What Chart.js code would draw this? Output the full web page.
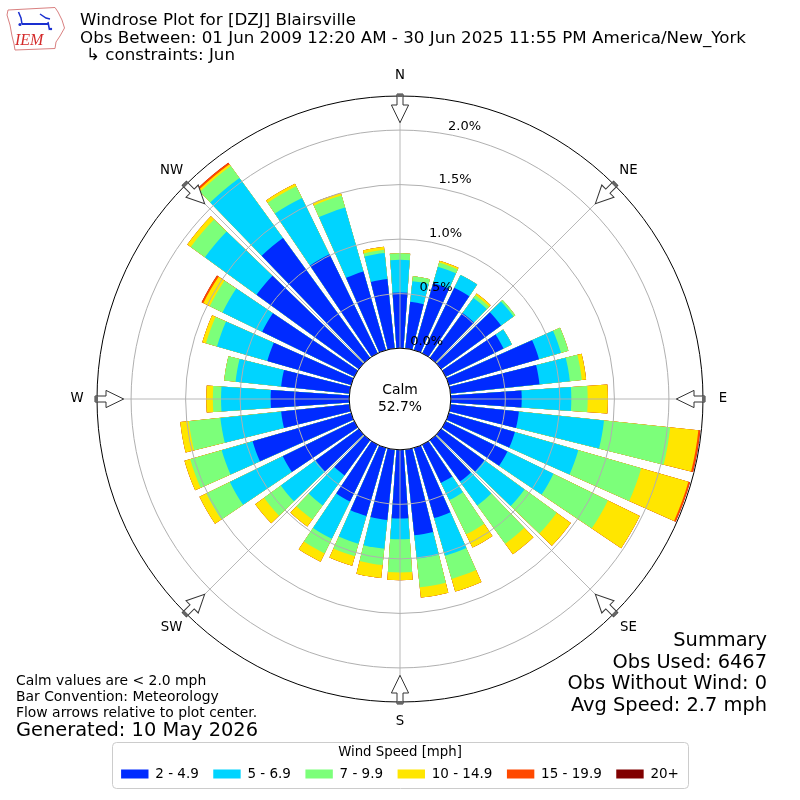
<!DOCTYPE html>
<html>
<head>
<meta charset="utf-8">
<title>Windrose Plot for [DZJ] Blairsville</title>
<script src="https://cdn.jsdelivr.net/npm/chart.js@4.4.1/dist/chart.umd.min.js"></script>
<style>
html, body { margin:0; padding:0; background:#ffffff; }
#wrap { position:relative; width:800px; height:800px; }
canvas { display:block; }
</style>
</head>
<body>
<div id="wrap"><canvas id="rose" width="800" height="800"></canvas></div>
<script>
// ---- Data (percent of observations) ----
const directions = [0,10,20,30,40,50,60,70,80,90,100,110,120,130,140,150,160,170,180,190,200,210,220,230,240,250,260,270,280,290,300,310,320,330,340,350];
const speedBins = ['2 - 4.9','5 - 6.9','7 - 9.9','10 - 14.9','15 - 19.9','20+'];
const binColors = ['#002bff','#00d4ff','#7cff7a','#ffe600','#ff4900','#800000'];

const speed2to5   = [0.51,0.43,0.64,0.67,0.51,0.68,0.59,0.86,0.82,0.65,0.63,0.63,0.63,0.49,0.47,0.39,0.67,0.79,0.63,0.65,0.65,0.58,0.40,0.49,0.73,0.94,0.63,0.72,0.63,0.80,0.94,1.16,1.36,1.01,0.75,0.64];
const speed5to7   = [0.30,0.19,0.155,0.13,0.17,0.14,0.085,0.21,0.28,0.455,0.785,0.605,0.47,0.455,0.27,0.175,0.36,0.215,0.19,0.265,0.265,0.38,0.34,0.395,0.54,0.295,0.56,0.455,0.42,0.48,0.405,0.585,0.68,0.575,0.61,0.24];
const speed7to10  = [0.06,0.045,0.04,0,0.03,0.02,0,0.07,0.11,0.15,0.61,0.60,0.555,0.365,0.435,0.35,0.22,0.265,0.305,0.15,0.12,0.15,0.16,0.19,0.24,0.30,0.29,0.075,0.105,0.105,0.13,0.16,0.135,0.12,0.115,0.03];
const speed10to15 = [0,0,0.017,0,0.02,0,0,0,0.04,0.185,0.26,0.45,0.325,0.16,0.12,0.135,0.12,0.095,0.07,0.12,0.09,0.085,0.08,0.10,0.07,0.055,0.08,0.06,0,0.035,0.065,0.04,0.02,0.025,0.025,0.027];
const speed15to20 = [0,0,0,0,0,0,0,0,0,0,0.018,0.016,0,0,0,0,0,0,0,0,0,0,0,0,0,0,0,0,0,0,0.018,0,0.018,0,0,0];
const speed20plus = [0,0,0,0,0,0,0,0,0,0,0,0,0,0,0,0,0,0,0,0,0,0,0,0,0,0,0,0,0,0,0,0,0,0,0,0];

const radialTicks = [0, 0.5, 1.0, 1.5, 2.0];
const radialTickLabels = ['0.0%','0.5%','1.0%','1.5%','2.0%'];
const compassLabels = ['N','NE','E','SE','S','SW','W','NW'];
const compassAngles = [0,45,90,135,180,225,270,315];

const calmLabel = 'Calm';
const calmValue = '52.7%';
const titleLines = ['Windrose Plot for [DZJ] Blairsville',
  'Obs Between: 01 Jun 2009 12:20 AM - 30 Jun 2025 11:55 PM America/New_York',
  '\u21b3 constraints: Jun'];
const noteLines = ['Calm values are < 2.0 mph','Bar Convention: Meteorology','Flow arrows relative to plot center.'];
const generatedLine = 'Generated: 10 May 2026';
const summaryLines = ['Summary','Obs Used: 6467','Obs Without Wind: 0','Avg Speed: 2.7 mph'];
const legendTitle = 'Wind Speed [mph]';

// ---- Build stacked (cumulative) datasets ----
const binSeries = [speed2to5, speed5to7, speed7to10, speed10to15, speed15to20, speed20plus];
const cumulative = binSeries.map((_, k) =>
  directions.map((d, j) => binSeries.slice(0, k + 1).reduce((s, arr) => s + arr[j], 0)));

const sliceLabels = [];
directions.forEach(d => { sliceLabels.push(d + '\u00b0'); sliceLabels.push(''); });

const BAR_DEG = 8, GAP_DEG = 2;
const datasets = cumulative.map((vals, k) => ({
  label: speedBins[k],
  data: vals.flatMap(v => [v, null]),
  backgroundColor: binColors[k],
  borderWidth: 0,
  angle: ctx => (ctx.dataIndex % 2 === 0 ? BAR_DEG : GAP_DEG)
}));

const FONT = 'DejaVu Sans';

function drawArrow(ctx, cx, cy, R, deg) {
  ctx.save();
  ctx.translate(cx, cy);
  ctx.rotate(deg * Math.PI / 180);
  const tail = -(R + 2), neck = -(R - 9), tip = -(R - 26.7);
  ctx.beginPath();
  ctx.moveTo(-3, tail); ctx.lineTo(3, tail); ctx.lineTo(3, neck); ctx.lineTo(8.6, neck);
  ctx.lineTo(0, tip); ctx.lineTo(-8.6, neck); ctx.lineTo(-3, neck); ctx.closePath();
  ctx.fillStyle = '#ffffff'; ctx.fill();
  ctx.strokeStyle = '#333333'; ctx.lineWidth = 1; ctx.stroke();
  ctx.fillStyle = '#666666';
  ctx.fillRect(-3, tail, 6, 3);
  ctx.restore();
}

function drawLogo(ctx) {
  ctx.save();
  ctx.beginPath();
  ctx.moveTo(8, 10); ctx.lineTo(55, 7.5); ctx.lineTo(58, 12); ctx.lineTo(62, 20);
  ctx.lineTo(64.5, 28); ctx.lineTo(60, 36); ctx.lineTo(56, 42); ctx.lineTo(55, 48.5);
  ctx.lineTo(15, 50); ctx.lineTo(14, 44); ctx.lineTo(12, 36); ctx.lineTo(10, 25); ctx.lineTo(7, 15);
  ctx.closePath();
  ctx.strokeStyle = '#d98080'; ctx.lineWidth = 1; ctx.stroke();
  ctx.strokeStyle = '#1a2fd0'; ctx.lineWidth = 2;
  ctx.beginPath(); ctx.moveTo(22, 24); ctx.lineTo(48, 24); ctx.stroke();
  ctx.lineWidth = 1.5;
  ctx.beginPath(); ctx.moveTo(18.5, 12); ctx.lineTo(21, 18); ctx.lineTo(22, 24); ctx.stroke();
  ctx.beginPath(); ctx.moveTo(40, 14); ctx.lineTo(46, 18); ctx.lineTo(50, 19); ctx.stroke();
  ctx.beginPath(); ctx.moveTo(48, 22); ctx.lineTo(49.5, 30); ctx.stroke();
  ctx.fillStyle = '#1a2fd0';
  ctx.beginPath(); ctx.arc(20, 24.5, 1.6, 0, Math.PI * 2); ctx.fill();
  ctx.beginPath(); ctx.arc(51, 29, 1.2, 0, Math.PI * 2); ctx.fill();
  ctx.fillStyle = '#d42a2a';
  ctx.font = 'italic 16px "Liberation Serif"';
  ctx.textAlign = 'left'; ctx.textBaseline = 'alphabetic';
  ctx.fillText('IEM', 15, 45);
  ctx.restore();
}

const decorPlugin = {
  id: 'decor',
  beforeDraw(chart) {
    const ctx = chart.ctx;
    ctx.save(); ctx.fillStyle = '#ffffff'; ctx.fillRect(0, 0, chart.width, chart.height); ctx.restore();
  },
  afterDatasetsDraw(chart) {
    const s = chart.scales.r, ctx = chart.ctx;
    const cx = s.xCenter, cy = s.yCenter, R = s.drawingArea;
    ctx.save();
    ctx.strokeStyle = '#b0b0b0'; ctx.lineWidth = 0.9;
    compassAngles.forEach(a => {
      const t = a * Math.PI / 180;
      ctx.beginPath(); ctx.moveTo(cx, cy);
      ctx.lineTo(cx + R * Math.sin(t), cy - R * Math.cos(t)); ctx.stroke();
    });
    ctx.restore();
  },
  afterDraw(chart) {
    const s = chart.scales.r, ctx = chart.ctx;
    const cx = s.xCenter, cy = s.yCenter, R = s.drawingArea;
    ctx.save();
    // outer frame
    ctx.beginPath(); ctx.arc(cx, cy, R, 0, Math.PI * 2);
    ctx.strokeStyle = '#000000'; ctx.lineWidth = 1; ctx.stroke();
    // calm circle
    const r0 = s.getDistanceFromCenterForValue(0);
    ctx.beginPath(); ctx.arc(cx, cy, r0, 0, Math.PI * 2);
    ctx.fillStyle = '#ffffff'; ctx.fill();
    ctx.strokeStyle = '#000000'; ctx.lineWidth = 1; ctx.stroke();
    ctx.fillStyle = '#000000';
    ctx.font = '13.9px "' + FONT + '"';
    ctx.textAlign = 'center'; ctx.textBaseline = 'middle';
    ctx.fillText(calmLabel, cx, cy - 8.5);
    ctx.fillText(calmValue, cx, cy + 8.5);
    // radial tick labels
    ctx.font = '13px "' + FONT + '"';
    ctx.textAlign = 'left';
    const la = 10 * Math.PI / 180;
    radialTicks.forEach((v, i) => {
      const r = s.getDistanceFromCenterForValue(v);
      ctx.fillText(radialTickLabels[i], cx + r * Math.sin(la) + 1.3, cy - r * Math.cos(la) - 7.8);
    });
    // arrows & compass labels
    compassAngles.forEach((a, i) => {
      drawArrow(ctx, cx, cy, R, a);
      const t = a * Math.PI / 180;
      ctx.fillStyle = '#000000';
      ctx.font = '13.3px "' + FONT + '"';
      ctx.textAlign = 'center'; ctx.textBaseline = 'middle';
      ctx.fillText(compassLabels[i], cx + (R + 20) * Math.sin(t), cy - (R + 20) * Math.cos(t));
    });
    // title block
    drawLogo(ctx);
    ctx.fillStyle = '#000000';
    ctx.textAlign = 'left'; ctx.textBaseline = 'alphabetic';
    ctx.font = '16.7px "' + FONT + '"';
    ctx.fillText(titleLines[0], 80, 25);
    ctx.fillText(titleLines[1], 80, 42.5);
    ctx.fillText(titleLines[2], 86, 60);
    // notes
    ctx.font = '13.9px "' + FONT + '"';
    noteLines.forEach((t, i) => ctx.fillText(t, 16, 685 + i * 16));
    ctx.font = '19.4px "' + FONT + '"';
    ctx.fillText(generatedLine, 16, 736);
    // summary
    ctx.textAlign = 'right';
    summaryLines.forEach((t, i) => ctx.fillText(t, 767, 646 + i * 21.6));
    // legend frame
    ctx.beginPath();
    if (ctx.roundRect) { ctx.roundRect(112.5, 742.5, 576, 46, 4); } else { ctx.rect(112.5, 742.5, 576, 46); }
    ctx.strokeStyle = '#cccccc'; ctx.lineWidth = 1; ctx.stroke();
    ctx.restore();
  }
};

new Chart(document.getElementById('rose'), {
  type: 'polarArea',
  data: { labels: sliceLabels, datasets: datasets },
  options: {
    responsive: false,
    animation: false,
    events: [],
    layout: { padding: { top: 96, left: 96, right: 96, bottom: 9.25 } },
    scales: {
      r: {
        type: 'radialLinear',
        min: -0.4662,
        max: 2.3126,
        startAngle: -BAR_DEG / 2,
        angleLines: { display: false },
        pointLabels: { display: false },
        grid: { display: true, circular: true, color: '#b0b0b0', lineWidth: 1, z: 1 },
        ticks: { display: false },
        afterBuildTicks: scale => { scale.ticks = radialTicks.map(v => ({ value: v })); }
      }
    },
    plugins: {
      tooltip: { enabled: false },
      legend: {
        display: true,
        position: 'bottom',
        onClick: null,
        title: {
          display: true, text: legendTitle, color: '#000000',
          font: { family: FONT, size: 13.3 },
          padding: { top: 42.5, bottom: -9.35 }
        },
        labels: {
          boxWidth: 27.4, boxHeight: 9, padding: 14.5, color: '#000000',
          font: { family: FONT, size: 13.5 },
          generateLabels: () => speedBins.map((t, i) => ({
            text: t, fillStyle: binColors[i], strokeStyle: binColors[i], lineWidth: 0,
            hidden: false, datasetIndex: i, fontColor: '#000000'
          }))
        }
      }
    }
  },
  plugins: [decorPlugin]
});
</script>
</body>
</html>
